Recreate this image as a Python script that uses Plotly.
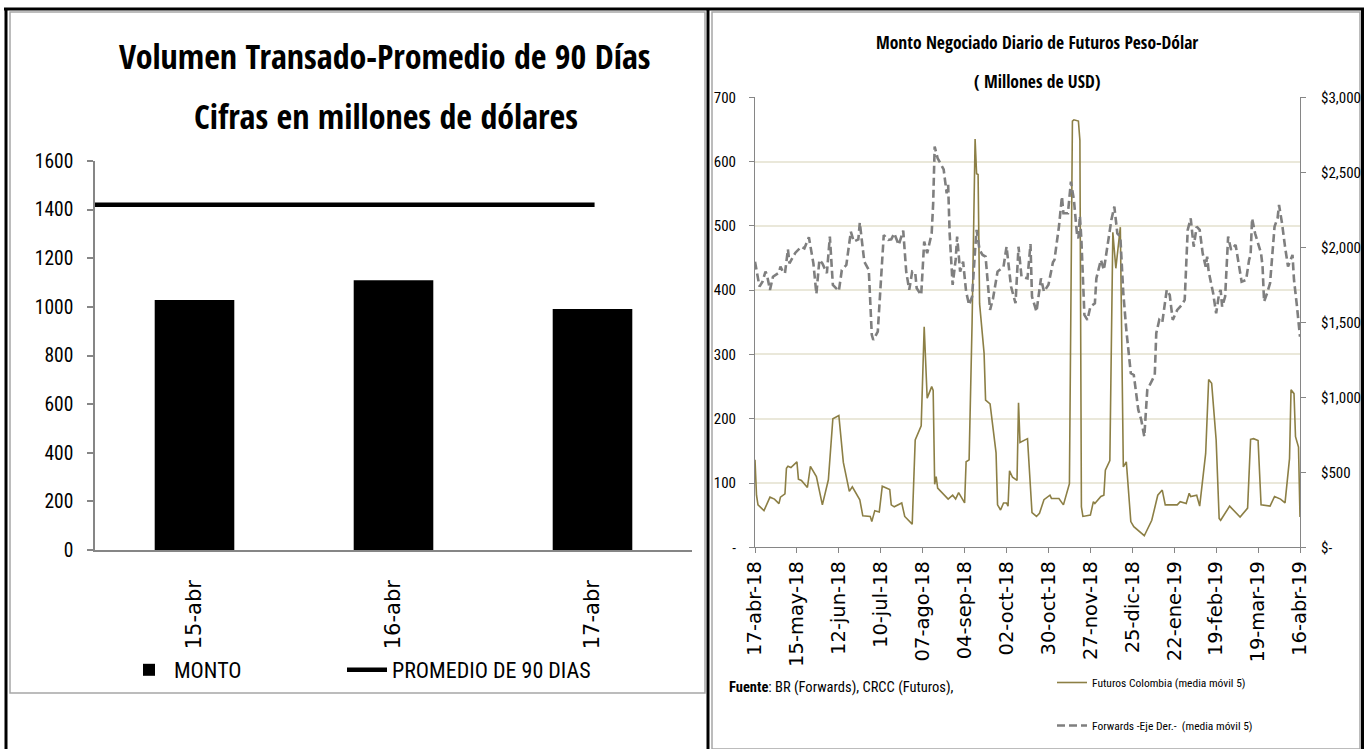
import plotly.graph_objects as go

W, H = 1364, 749

# ---------------- Left panel: daily traded volume vs 90-day average ----------------
dias = ["15-abr", "16-abr", "17-abr"]
monto = [1028, 1110, 991]
promedio_90 = [1420, 1420, 1420]

# ---------------- Right panel: daily USD/COP futures vs forwards (5-day moving averages) ----------------
fut_fechas = [
    "2018-04-17", "2018-04-18", "2018-04-19", "2018-04-23", "2018-04-27", "2018-04-30",
    "2018-05-03", "2018-05-04", "2018-05-07", "2018-05-08", "2018-05-09", "2018-05-11",
    "2018-05-15", "2018-05-16", "2018-05-18", "2018-05-22", "2018-05-24", "2018-05-28",
    "2018-06-01", "2018-06-05", "2018-06-08", "2018-06-12", "2018-06-15", "2018-06-19",
    "2018-06-21", "2018-06-26", "2018-06-28", "2018-07-03", "2018-07-04", "2018-07-06",
    "2018-07-09", "2018-07-11", "2018-07-16", "2018-07-17", "2018-07-19", "2018-07-24",
    "2018-07-26", "2018-07-31", "2018-08-02", "2018-08-06", "2018-08-08", "2018-08-10",
    "2018-08-13", "2018-08-14", "2018-08-15", "2018-08-16", "2018-08-17", "2018-08-21",
    "2018-08-24", "2018-08-27", "2018-08-29", "2018-08-31", "2018-09-04", "2018-09-05",
    "2018-09-07", "2018-09-09", "2018-09-11", "2018-09-12", "2018-09-13", "2018-09-14",
    "2018-09-17", "2018-09-18", "2018-09-21", "2018-09-25", "2018-09-26", "2018-09-28",
    "2018-09-30", "2018-10-02", "2018-10-03", "2018-10-04", "2018-10-06", "2018-10-09",
    "2018-10-10", "2018-10-11", "2018-10-16", "2018-10-19", "2018-10-22", "2018-10-24",
    "2018-10-27", "2018-10-31", "2018-11-01", "2018-11-06", "2018-11-09", "2018-11-13",
    "2018-11-15", "2018-11-16", "2018-11-19", "2018-11-20", "2018-11-21", "2018-11-22",
    "2018-11-27", "2018-11-29", "2018-11-30", "2018-12-04", "2018-12-06", "2018-12-07",
    "2018-12-10", "2018-12-12", "2018-12-14", "2018-12-17", "2018-12-19", "2018-12-21",
    "2018-12-24", "2018-12-26", "2019-01-02", "2019-01-07", "2019-01-11", "2019-01-14",
    "2019-01-16", "2019-01-24", "2019-01-26", "2019-01-30", "2019-02-01", "2019-02-02",
    "2019-02-06", "2019-02-08", "2019-02-12", "2019-02-14", "2019-02-16", "2019-02-19",
    "2019-02-21", "2019-02-22", "2019-02-28", "2019-03-07", "2019-03-12", "2019-03-14",
    "2019-03-16", "2019-03-19", "2019-03-21", "2019-03-27", "2019-03-30", "2019-04-03",
    "2019-04-06", "2019-04-09", "2019-04-10", "2019-04-12", "2019-04-13", "2019-04-15",
    "2019-04-16",
]
fut_valores = [
    136, 81, 66, 57, 78, 75,
    68, 78, 83, 123, 126, 124,
    133, 106, 104, 93, 126, 110,
    66, 105, 200, 205, 132, 87,
    94, 74, 49, 48, 40, 57,
    55, 95, 90, 66, 63, 69,
    48, 36, 167, 189, 343, 232,
    250, 244, 98, 110, 92, 83,
    75, 81, 75, 85, 69, 133,
    136, 350, 635, 581, 580, 379,
    302, 229, 223, 147, 66, 58,
    69, 69, 64, 119, 109, 104,
    225, 163, 169, 54, 48, 53,
    74, 81, 76, 76, 66, 99,
    663, 665, 663, 633, 63, 48,
    50, 71, 68, 79, 81, 120,
    135, 490, 434, 498, 125, 133,
    40, 32, 18, 42, 81, 89,
    66, 66, 71, 68, 84, 79,
    81, 64, 146, 261, 255, 167,
    45, 42, 64, 47, 61, 168,
    169, 166, 66, 64, 79, 75,
    69, 138, 245, 239, 172, 156,
    47,
]

fwd_fechas = [
    "2018-04-17", "2018-04-18", "2018-04-20", "2018-04-22", "2018-04-24", "2018-04-25",
    "2018-04-27", "2018-04-29", "2018-05-03", "2018-05-04", "2018-05-06", "2018-05-07",
    "2018-05-09", "2018-05-10", "2018-05-14", "2018-05-18", "2018-05-20", "2018-05-23",
    "2018-05-26", "2018-05-28", "2018-05-30", "2018-06-01", "2018-06-04", "2018-06-06",
    "2018-06-08", "2018-06-12", "2018-06-14", "2018-06-17", "2018-06-20", "2018-06-22",
    "2018-06-25", "2018-06-26", "2018-06-29", "2018-07-02", "2018-07-04", "2018-07-05",
    "2018-07-08", "2018-07-12", "2018-07-15", "2018-07-17", "2018-07-19", "2018-07-22",
    "2018-07-25", "2018-07-27", "2018-07-29", "2018-07-31", "2018-08-02", "2018-08-03",
    "2018-08-06", "2018-08-08", "2018-08-10", "2018-08-13", "2018-08-14", "2018-08-15",
    "2018-08-17", "2018-08-21", "2018-08-23", "2018-08-24", "2018-08-25", "2018-08-27",
    "2018-08-29", "2018-08-30", "2018-09-01", "2018-09-03", "2018-09-05", "2018-09-07",
    "2018-09-09", "2018-09-11", "2018-09-12", "2018-09-14", "2018-09-16", "2018-09-18",
    "2018-09-21", "2018-09-23", "2018-09-26", "2018-09-30", "2018-10-02", "2018-10-05",
    "2018-10-08", "2018-10-10", "2018-10-12", "2018-10-16", "2018-10-18", "2018-10-19",
    "2018-10-22", "2018-10-25", "2018-10-27", "2018-10-30", "2018-11-02", "2018-11-03",
    "2018-11-06", "2018-11-08", "2018-11-09", "2018-11-12", "2018-11-14", "2018-11-16",
    "2018-11-18", "2018-11-19", "2018-11-20", "2018-11-21", "2018-11-23", "2018-11-25",
    "2018-11-27", "2018-11-30", "2018-12-01", "2018-12-04", "2018-12-06", "2018-12-08",
    "2018-12-11", "2018-12-13", "2018-12-15", "2018-12-17", "2018-12-19", "2018-12-21",
    "2018-12-24", "2018-12-26", "2018-12-29", "2018-12-31", "2019-01-02", "2019-01-04",
    "2019-01-07", "2019-01-09", "2019-01-10", "2019-01-12", "2019-01-14", "2019-01-17",
    "2019-01-19", "2019-01-21", "2019-01-24", "2019-01-27", "2019-01-29", "2019-01-31",
    "2019-02-02", "2019-02-04", "2019-02-06", "2019-02-08", "2019-02-10", "2019-02-12",
    "2019-02-13", "2019-02-14", "2019-02-17", "2019-02-19", "2019-02-21", "2019-02-22",
    "2019-02-23", "2019-02-25", "2019-02-27", "2019-03-01", "2019-03-04", "2019-03-06",
    "2019-03-08", "2019-03-11", "2019-03-13", "2019-03-14", "2019-03-15", "2019-03-17",
    "2019-03-21", "2019-03-22", "2019-03-23", "2019-03-25", "2019-03-27", "2019-03-30",
    "2019-04-01", "2019-04-02", "2019-04-04", "2019-04-06", "2019-04-08", "2019-04-11",
    "2019-04-12", "2019-04-14", "2019-04-16",
]
fwd_valores = [
    1904, 1838, 1738, 1771, 1838, 1816,
    1716, 1804, 1831, 1871, 1831, 1827,
    1987, 1893, 1964, 2004, 1993, 2067,
    1893, 1689, 1916, 1893, 1827, 2071,
    1749, 1709, 1849, 1882, 2104, 2038,
    2053, 2164, 1904, 1849, 1416, 1382,
    1438, 2082, 2049, 2053, 2093, 2016,
    2111, 1838, 1716, 1838, 1831, 1727,
    1682, 2038, 1960, 2093, 2293, 2671,
    2593, 2520, 2360, 2416, 2093, 1749,
    1916, 2071, 1838, 1904, 1704, 1616,
    1671, 1982, 2116, 1982, 1949, 1938,
    1582, 1660, 1838, 1871, 2004, 1738,
    1627, 2004, 1804, 1793, 2022, 1671,
    1571, 1793, 1704, 1750, 1900, 1916,
    2138, 2338, 2227, 2227, 2438, 2316,
    2093, 2060, 2209, 2049, 1549, 1516,
    1604, 1627, 1793, 1916, 1849, 1982,
    2182, 2271, 2093, 2071, 1693, 1449,
    1160, 1149, 916, 849, 738, 1049,
    1116, 1149, 1427, 1516, 1498, 1716,
    1682, 1516, 1582, 1616, 1649, 2116,
    2193, 2004, 2138, 2116, 1960, 1871,
    1938, 1838, 1693, 1560, 1693, 1716,
    1604, 1671, 2071, 1982, 2016, 1893,
    1771, 1782, 1916, 1949, 2193, 2093,
    1960, 1871, 1638, 1693, 1760, 2138,
    2193, 2282, 2160, 2004, 1871, 1949,
    1782, 1604, 1404,
]

tick_fechas = [
    "2018-04-17", "2018-05-15", "2018-06-12", "2018-07-10", "2018-08-07", "2018-09-04",
    "2018-10-02", "2018-10-30", "2018-11-27", "2018-12-25", "2019-01-22", "2019-02-19",
    "2019-03-19", "2019-04-16",
]
tick_textos = [
    "17-abr-18", "15-may-18", "12-jun-18", "10-jul-18", "07-ago-18", "04-sep-18",
    "02-oct-18", "30-oct-18", "27-nov-18", "25-dic-18", "22-ene-19", "19-feb-19",
    "19-mar-19", "16-abr-19",
]

eje_izq_vals = [0, 100, 200, 300, 400, 500, 600, 700]
eje_izq_txt = ["-", "100", "200", "300", "400", "500", "600", "700"]
eje_der_vals = [0, 500, 1000, 1500, 2000, 2500, 3000]
eje_der_txt = ["$-", "$500", "$1,000", "$1,500", "$2,000", "$2,500", "$3,000"]

TITLE_FONT = "Open Sans Condensed, Roboto Condensed, sans-serif"
NARROW = "Roboto Condensed, Liberation Sans Narrow, sans-serif"
WIDE = "DejaVu Sans, Verdana, sans-serif"
AXIS_GRAY = "#868686"
OLIVE = "#8C7F45"
DASH_GRAY = "#7F7F7F"


def px(x):
    return x / W


def py(y):
    return 1 - y / H


fig = go.Figure()

# Left panel traces
fig.add_trace(go.Bar(
    x=dias, y=monto, name="MONTO", showlegend=True,
    marker=dict(color="black", line=dict(color="black", width=0)),
    xaxis="x", yaxis="y", legend="legend",
))
fig.add_trace(go.Scatter(
    x=dias, y=promedio_90, name="PROMEDIO DE 90 DIAS", mode="lines", showlegend=True,
    line=dict(color="black", width=4.5),
    xaxis="x2", yaxis="y", legend="legend3",
))

# Right panel traces
fig.add_trace(go.Scatter(
    x=fut_fechas, y=fut_valores, name="Futuros Colombia (media móvil 5)", mode="lines",
    line=dict(color=OLIVE, width=1.6), showlegend=True,
    xaxis="x3", yaxis="y3", legend="legend2", legendgroup="fut",
))
fig.add_trace(go.Scatter(
    x=fwd_fechas, y=fwd_valores, name="Forwards -Eje Der.-  (media móvil 5)", mode="lines",
    line=dict(color=DASH_GRAY, width=2.6, dash="8px,4px"), showlegend=True,
    xaxis="x3", yaxis="y4", legend="legend2", legendgroup="fwd",
))

left_x_dom = [px(95), px(692)]
left_y_dom = [py(550), py(161)]
right_x_dom = [px(755), px(1300)]
right_y_dom = [py(547.3), py(97.3)]

fig.update_layout(
    template="none",
    width=W, height=H,
    margin=dict(l=0, r=0, t=0, b=0, pad=0, autoexpand=False),
    paper_bgcolor="white", plot_bgcolor="rgba(0,0,0,0)",
    showlegend=True,
    bargap=0.6,
    font=dict(family=NARROW, color="black"),
    xaxis=dict(
        domain=left_x_dom, anchor="y", type="category", automargin=False,
        showline=True, linecolor=AXIS_GRAY, linewidth=1.5,
        ticks="", tickangle=-90, ticklabelstandoff=20,
        tickfont=dict(family=WIDE, size=21, color="black"),
        showgrid=False, zeroline=False,
    ),
    xaxis2=dict(
        domain=left_x_dom, anchor="y", overlaying="x", type="category",
        range=[0, 2.39], visible=False, automargin=False,
    ),
    yaxis=dict(
        domain=left_y_dom, anchor="x", range=[0, 1600], dtick=200, automargin=False,
        showline=True, linecolor=AXIS_GRAY, linewidth=1.5,
        ticks="outside", ticklen=6, tickcolor=AXIS_GRAY, tickwidth=1.5,
        tickfont=dict(family=NARROW, size=19.5, color="black"),
        showgrid=False, zeroline=False, ticklabelstandoff=10,
    ),
    xaxis3=dict(
        domain=right_x_dom, anchor="y3", type="date", automargin=False,
        range=["2018-04-17", "2019-04-16"],
        tickvals=tick_fechas, ticktext=tick_textos,
        showline=True, linecolor=AXIS_GRAY, linewidth=1,
        ticks="outside", ticklen=5, tickcolor=AXIS_GRAY,
        tickangle=-90, tickfont=dict(family=WIDE, size=19.5, color="black"),
        showgrid=False, zeroline=False,
    ),
    yaxis3=dict(
        domain=right_y_dom, anchor="x3", range=[0, 700], automargin=False,
        tickvals=eje_izq_vals, ticktext=eje_izq_txt,
        showline=True, linecolor=AXIS_GRAY, linewidth=1,
        ticks="outside", ticklen=5, tickcolor=AXIS_GRAY,
        tickfont=dict(family=NARROW, size=15, color="black"),
        showgrid=True, gridcolor="#EAE8DA", gridwidth=1.5, zeroline=False,
        ticklabelstandoff=10,
    ),
    yaxis4=dict(
        domain=right_y_dom, anchor="x3", overlaying="y3", side="right",
        range=[0, 3000], tickvals=eje_der_vals, ticktext=eje_der_txt, automargin=False,
        showline=True, linecolor=AXIS_GRAY, linewidth=1,
        ticks="outside", ticklen=5, tickcolor=AXIS_GRAY,
        tickfont=dict(family=NARROW, size=15, color="black"),
        showgrid=False, zeroline=False, ticklabelstandoff=12,
    ),
    legend=dict(
        orientation="h", x=px(124), y=py(670), xanchor="left", yanchor="middle",
        font=dict(family=NARROW, size=22, color="black"),
        itemwidth=40, bgcolor="rgba(0,0,0,0)", borderwidth=0,
    ),
    legend3=dict(
        orientation="h", x=px(342), y=py(670), xanchor="left", yanchor="middle",
        font=dict(family=NARROW, size=22, color="black"),
        itemwidth=40, bgcolor="rgba(0,0,0,0)", borderwidth=0,
    ),
    legend2=dict(
        orientation="v", x=px(1052), y=py(668), xanchor="left", yanchor="top",
        font=dict(family=NARROW, size=11.5, color="black"),
        tracegroupgap=24, itemwidth=30,
        bgcolor="rgba(0,0,0,0)", borderwidth=0,
    ),
)

# Titles and source note
fig.add_annotation(
    text="<b>Volumen Transado-Promedio de 90 Días</b>", x=px(385), y=py(56),
    xref="paper", yref="paper", showarrow=False, xanchor="center", yanchor="middle",
    font=dict(family=TITLE_FONT, size=34, color="black"),
)
fig.add_annotation(
    text="<b>Cifras en millones de dólares</b>", x=px(386), y=py(116),
    xref="paper", yref="paper", showarrow=False, xanchor="center", yanchor="middle",
    font=dict(family=TITLE_FONT, size=34, color="black"),
)
fig.add_annotation(
    text="<b>Monto Negociado Diario de Futuros Peso-Dólar</b>", x=px(1037), y=py(42),
    xref="paper", yref="paper", showarrow=False, xanchor="center", yanchor="middle",
    font=dict(family=TITLE_FONT, size=17.5, color="black"),
)
fig.add_annotation(
    text="<b>( Millones de USD)</b>", x=px(1037), y=py(81),
    xref="paper", yref="paper", showarrow=False, xanchor="center", yanchor="middle",
    font=dict(family=TITLE_FONT, size=17.5, color="black"),
)
fig.add_annotation(
    text="<b>Fuente</b>: BR (Forwards), CRCC (Futuros),", x=px(727), y=py(687),
    xref="paper", yref="paper", showarrow=False, xanchor="left", yanchor="middle",
    font=dict(family=NARROW, size=14.5, color="black"),
)

# Panel frames
shapes = []
for x0, y0, x1, y1 in [(10, 12, 705, 693), (712, 12, 1360, 749)]:
    shapes.append(dict(type="rect", xref="paper", yref="paper",
                       x0=px(x0), y0=py(y0), x1=px(x1), y1=py(y1),
                       line=dict(color="#A6A6A6", width=1.5), layer="below"))
for x0, y0, x1, y1 in [(4, 9, 1364, 9), (6, 9, 6, 749), (708, 9, 708, 749), (1362.5, 9, 1362.5, 749)]:
    shapes.append(dict(type="line", xref="paper", yref="paper",
                       x0=px(x0), y0=py(y0), x1=px(x1), y1=py(y1),
                       line=dict(color="black", width=3)))
fig.update_layout(shapes=shapes)

fig.write_html("out.html", post_script="document.body.style.margin='0';")
